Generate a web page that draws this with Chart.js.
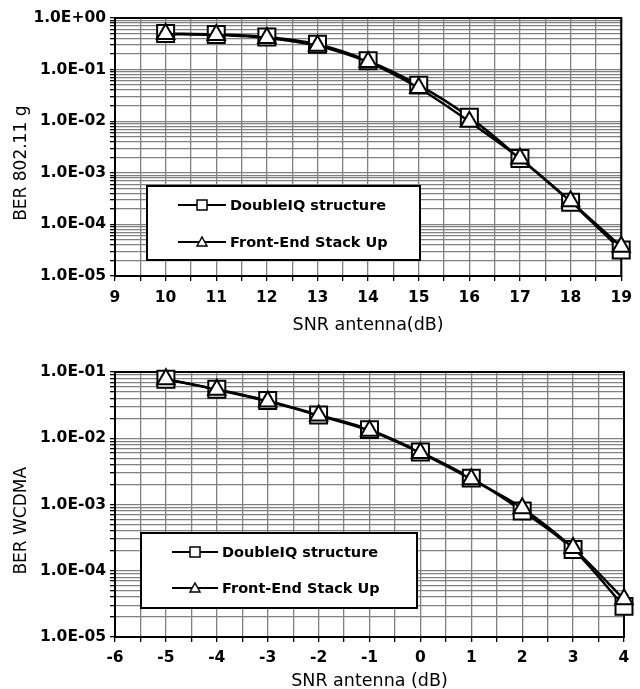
<!DOCTYPE html>
<html>
<head>
<meta charset="utf-8">
<script src="https://cdn.jsdelivr.net/npm/chart.js@4/dist/chart.umd.min.js"></script>
<style>
  html, body { margin: 0; padding: 0; background: #fff; }
  #wrap { position: relative; width: 640px; height: 689px; overflow: hidden; }
  .box { position: absolute; left: 0; width: 640px; }
  #b1 { top: 0; height: 340px; }
  #b2 { top: 340px; height: 352px; }
</style>
</head>
<body>
<div id="wrap">
  <div class="box" id="b1"><canvas id="c1" width="640" height="340"></canvas></div>
  <div class="box" id="b2"><canvas id="c2" width="640" height="352"></canvas></div>
</div>
<script>
// ---------- DATA ----------
const seriesNames = ['DoubleIQ structure', 'Front-End Stack Up'];

// Top chart: BER 802.11 g
const snrG = [10, 11, 12, 13, 14, 15, 16, 17, 18, 19];
const berG_doubleIQ = [0.50, 0.48, 0.43, 0.31, 0.148, 0.050, 0.0120, 0.0019, 0.00027, 0.000032];
const berG_frontEnd = [0.49, 0.47, 0.41, 0.29, 0.140, 0.044, 0.0098, 0.0019, 0.00028, 0.000037];
const xTicksG = [9, 10, 11, 12, 13, 14, 15, 16, 17, 18, 19];
const yDecadesG = [-5, -4, -3, -2, -1, 0];
const yLabelsG = ['1.0E-05', '1.0E-04', '1.0E-03', '1.0E-02', '1.0E-01', '1.0E+00'];

// Bottom chart: BER WCDMA
const snrW = [-5, -4, -3, -2, -1, 0, 1, 2, 3, 4];
const berW_doubleIQ = [0.078, 0.055, 0.037, 0.0225, 0.0135, 0.0062, 0.0025, 0.00080, 0.00021, 0.000029];
const berW_frontEnd = [0.078, 0.054, 0.036, 0.0220, 0.0130, 0.0060, 0.0024, 0.00088, 0.00022, 0.000037];
const xTicksW = [-6, -5, -4, -3, -2, -1, 0, 1, 2, 3, 4];
const yDecadesW = [-5, -4, -3, -2, -1];
const yLabelsW = ['1.0E-05', '1.0E-04', '1.0E-03', '1.0E-02', '1.0E-01'];

// ---------- STYLE ----------
const FONT = 'DejaVu Sans';
const GRID = '#808080';

function logGridValues(decades) {
  const vals = [];
  for (let i = 0; i < decades.length; i++) {
    const e = decades[i];
    if (i === decades.length - 1) { vals.push(Math.pow(10, e)); break; }
    for (let m = 1; m <= 9; m++) vals.push(m * Math.pow(10, e));
  }
  return vals;
}
function halfSteps(ticks) {
  const vals = [];
  for (let i = 0; i < ticks.length; i++) {
    vals.push(ticks[i]);
    if (i < ticks.length - 1) vals.push((ticks[i] + ticks[i + 1]) / 2);
  }
  return vals;
}
function isDecade(v) {
  const l = Math.log10(v);
  return Math.abs(l - Math.round(l)) < 1e-9;
}

// frame + legend plugin
const framePlugin = {
  id: 'frame',
  beforeDatasetsDraw(chart) {
    const { ctx, chartArea: a } = chart;
    ctx.save();
    ctx.strokeStyle = '#000';
    ctx.lineWidth = 2;
    ctx.strokeRect(a.left, a.top, a.right - a.left, a.bottom - a.top);
    ctx.restore();
  }
};
const boxLegend = {
  id: 'boxLegend',
  afterDatasetsDraw(chart, args, opts) {
    const { ctx, chartArea: a } = chart;
    const x0 = a.left + opts.dx, y0 = a.bottom - opts.dyTop;
    const w = opts.w, h = opts.h;
    ctx.save();
    ctx.fillStyle = '#fff';
    ctx.fillRect(x0, y0, w, h);
    ctx.strokeStyle = '#000';
    ctx.lineWidth = 2;
    ctx.strokeRect(x0, y0, w, h);
    chart.data.datasets.forEach((ds, i) => {
      const cy = y0 + opts.row0 + i * opts.rowGap;
      const lx0 = x0 + opts.lineX0, lx1 = lx0 + opts.lineLen;
      ctx.strokeStyle = '#000';
      ctx.lineWidth = 2;
      ctx.beginPath(); ctx.moveTo(lx0, cy); ctx.lineTo(lx1, cy); ctx.stroke();
      const cx = (lx0 + lx1) / 2;
      ctx.fillStyle = '#fff';
      ctx.lineWidth = 1.5;
      ctx.beginPath();
      if (ds.pointStyle === 'rect') {
        ctx.rect(cx - 5, cy - 5, 10, 10);
      } else {
        ctx.moveTo(cx, cy - 5); ctx.lineTo(cx + 5, cy + 4); ctx.lineTo(cx - 5, cy + 4); ctx.closePath();
      }
      ctx.fill(); ctx.stroke();
      ctx.fillStyle = '#000';
      ctx.font = 'bold 14.5px "' + FONT + '"';
      ctx.textBaseline = 'middle';
      ctx.textAlign = 'left';
      ctx.fillText(ds.label, lx1 + 4, cy + 1);
    });
    ctx.restore();
  }
};

function makeChart(canvasId, cfg) {
  const yGrid = logGridValues(cfg.yDecades);
  const xGrid = halfSteps(cfg.xTicks);
  const labelFor = (v) => {
    if (!isDecade(v)) return '';
    const idx = cfg.yDecades.indexOf(Math.round(Math.log10(v)));
    return idx >= 0 ? cfg.yLabels[idx] : '';
  };
  return new Chart(document.getElementById(canvasId), {
    type: 'line',
    data: {
      datasets: [
        {
          label: seriesNames[0],
          data: cfg.x.map((x, i) => ({ x: x, y: cfg.s1[i] })),
          borderColor: '#000', borderWidth: 2.5,
          pointStyle: 'rect', pointRadius: 12, pointBorderWidth: 2,
          pointBackgroundColor: '#fff', pointBorderColor: '#000',
          tension: 0.3, cubicInterpolationMode: 'monotone',
          order: 1, clip: false
        },
        {
          label: seriesNames[1],
          data: cfg.x.map((x, i) => ({ x: x, y: cfg.s2[i] })),
          borderColor: '#000', borderWidth: 2.5,
          pointStyle: 'triangle', pointRadius: 10, pointBorderWidth: 2,
          pointBackgroundColor: '#fff', pointBorderColor: '#000',
          tension: 0.3, cubicInterpolationMode: 'monotone',
          order: 0, clip: false
        }
      ]
    },
    options: {
      responsive: false,
      animation: false,
      layout: { padding: cfg.padding },
      plugins: {
        legend: { display: false },
        tooltip: { enabled: false },
        boxLegend: cfg.legend
      },
      scales: {
        x: {
          type: 'linear',
          min: cfg.xTicks[0], max: cfg.xTicks[cfg.xTicks.length - 1],
          afterBuildTicks: (s) => { s.ticks = xGrid.map(v => ({ value: v })); },
          afterFit: (s) => { s.height = cfg.xHeight; },
          grid: { color: GRID, lineWidth: 1.3, tickLength: 5, tickColor: '#000', drawTicks: true },
          border: { display: true, color: '#000', width: 2 },
          ticks: {
            autoSkip: false, maxRotation: 0, padding: cfg.xTickPad, color: '#000',
            font: { family: FONT, weight: 'bold', size: 15.5 },
            callback: (v) => (Number.isInteger(v) && cfg.xTicks.includes(v)) ? String(v) : ''
          },
          title: {
            display: true, text: cfg.xTitle, color: '#000',
            font: { family: FONT, size: 17.5 }, padding: { top: 0, bottom: cfg.xTitlePad }
          }
        },
        y: {
          type: 'logarithmic',
          min: Math.pow(10, cfg.yDecades[0]), max: Math.pow(10, cfg.yDecades[cfg.yDecades.length - 1]),
          afterBuildTicks: (s) => { s.ticks = yGrid.map(v => ({ value: v })); },
          afterFit: (s) => { s.width = 115; },
          grid: { color: GRID, lineWidth: 1.3, tickLength: 5, tickColor: '#000' },
          border: { display: true, color: '#000', width: 2 },
          ticks: {
            autoSkip: false, padding: 4, color: '#000',
            font: { family: FONT, weight: 'bold', size: 15.5 },
            callback: (v) => labelFor(v)
          },
          title: {
            display: true, text: cfg.yTitle + '      ', color: '#000',
            font: { family: FONT, size: 17 }, padding: { top: 11, bottom: 0 }
          }
        }
      }
    },
    plugins: [framePlugin, boxLegend]
  });
}

makeChart('c1', {
  x: snrG, s1: berG_doubleIQ, s2: berG_frontEnd,
  xTicks: xTicksG, yDecades: yDecadesG, yLabels: yLabelsG,
  xTitle: 'SNR antenna(dB)', yTitle: 'BER 802.11 g',
  padding: { top: 18, right: 18, bottom: 0, left: 0 },
  xHeight: 64, xTickPad: 8, xTitlePad: 4,
  legend: { dx: 32, dyTop: 90, w: 273, h: 74, row0: 19, rowGap: 37, lineX0: 31, lineLen: 48 }
});

makeChart('c2', {
  x: snrW, s1: berW_doubleIQ, s2: berW_frontEnd,
  xTicks: xTicksW, yDecades: yDecadesW, yLabels: yLabelsW,
  xTitle: 'SNR antenna (dB)', yTitle: 'BER WCDMA',
  padding: { top: 32, right: 16, bottom: 0, left: 0 },
  xHeight: 55, xTickPad: 7, xTitlePad: 0,
  legend: { dx: 26, dyTop: 104, w: 276, h: 75, row0: 19, rowGap: 36, lineX0: 31, lineLen: 46 }
});
</script>
</body>
</html>
